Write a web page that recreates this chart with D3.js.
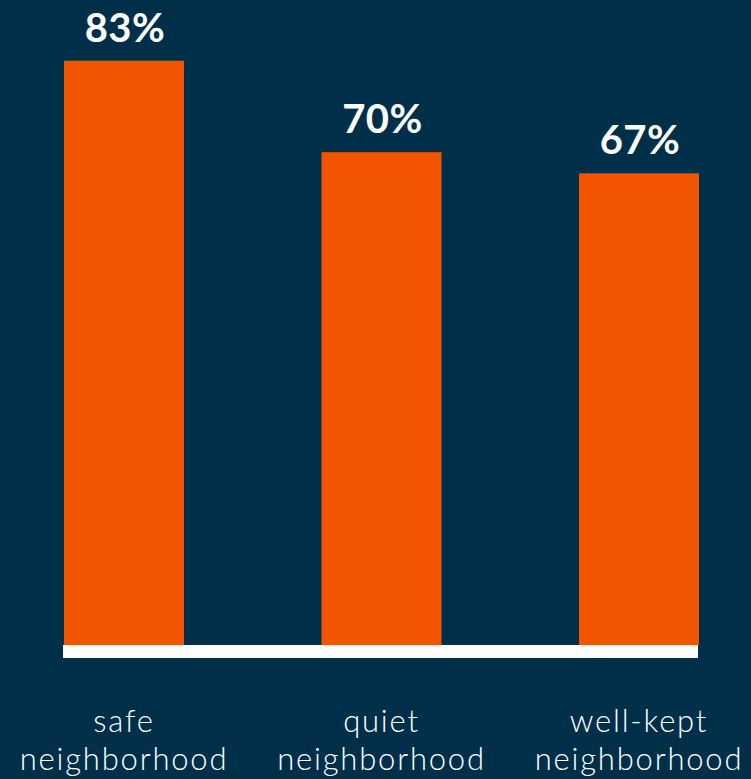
<!DOCTYPE html>
<html>
<head>
<meta charset="utf-8">
<script src="https://cdn.jsdelivr.net/npm/d3@7"></script>
<style>
  html, body { margin: 0; padding: 0; background: #003049; }
  svg { display: block; }
</style>
</head>
<body>
<svg id="chart" width="751" height="779"></svg>
<script>
// Share of respondents naming each neighborhood quality
const categories = ["safe neighborhood", "quiet neighborhood", "well-kept neighborhood"];
const labelLines = [["safe", "neighborhood"], ["quiet", "neighborhood"], ["well-kept", "neighborhood"]];
const values = [83, 70, 67];
const valueLabels = ["83%", "70%", "67%"];

const W = 751, H = 779;
const svg = d3.select("#chart");

svg.append("rect").attr("width", W).attr("height", H).attr("fill", "#003049");

const x = d3.scaleBand()
  .domain(categories)
  .range([64, 699])
  .paddingInner(0.534)
  .paddingOuter(0);

const y = d3.scaleLinear()
  .domain([0, 100])
  .range([645, -59]);

// bars
svg.selectAll("rect.bar")
  .data(categories)
  .join("rect")
  .attr("class", "bar")
  .attr("x", d => x(d))
  .attr("width", x.bandwidth())
  .attr("y", (d, i) => y(values[i]))
  .attr("height", (d, i) => y(0) - y(values[i]))
  .attr("fill", "#F25400");

// baseline
svg.append("rect")
  .attr("x", x.range()[0] - 1)
  .attr("y", y(0))
  .attr("width", x.range()[1] - x.range()[0])
  .attr("height", 13)
  .attr("fill", "#ffffff");

// value labels
svg.selectAll("text.value")
  .data(categories)
  .join("text")
  .attr("class", "value")
  .attr("x", d => x(d) + x.bandwidth() / 2 + 1)
  .attr("y", (d, i) => y(values[i]) - 19)
  .attr("text-anchor", "middle")
  .attr("fill", "#ffffff")
  .attr("font-family", "Lato, sans-serif")
  .attr("font-weight", 700)
  .attr("font-size", 40)
  .attr("letter-spacing", 0.5)
  .text((d, i) => valueLabels[i]);

// category labels
const cat = svg.selectAll("text.cat")
  .data(categories)
  .join("text")
  .attr("class", "cat")
  .attr("text-anchor", "middle")
  .attr("fill", "#ffffff")
  .attr("font-family", "Lato, sans-serif")
  .attr("font-weight", 300)
  .attr("font-size", 31)
  .attr("letter-spacing", 1.8);

cat.selectAll("tspan")
  .data((d, i) => labelLines[i].map(t => ({ t, c: x(d) + x.bandwidth() / 2 })))
  .join("tspan")
  .attr("x", d => d.c)
  .attr("y", (d, j) => 732 + j * 38)
  .text(d => d.t);
</script>
</body>
</html>
